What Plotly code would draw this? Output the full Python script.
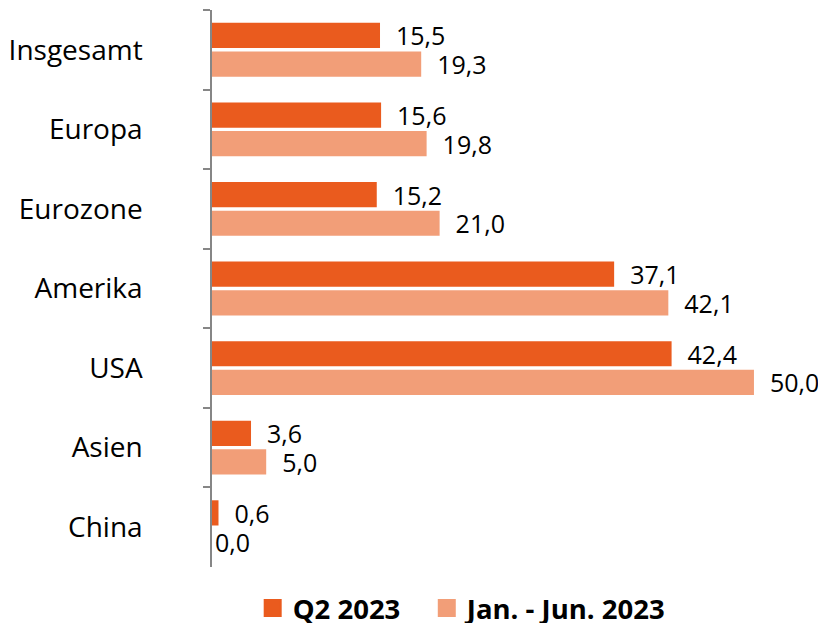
import plotly.graph_objects as go

categories = ["Insgesamt", "Europa", "Eurozone", "Amerika", "USA", "Asien", "China"]
q2_2023 = [15.5, 15.6, 15.2, 37.1, 42.4, 3.6, 0.6]
jan_jun_2023 = [19.3, 19.8, 21.0, 42.1, 50.0, 5.0, 0.0]
series_names = ["Q2 2023", "Jan. - Jun. 2023"]
colors = ["#EA5B1E", "#F29E78"]

FONT = "Open Sans"

fig = go.Figure()
for name, vals, col in zip(series_names, [q2_2023, jan_jun_2023], colors):
    templates = ["\u00a0\u00a0%{x:.1f}" if v > 0 else "%{x:.1f}" for v in vals]
    fig.add_trace(go.Bar(
        y=categories, x=vals, name=name, orientation="h",
        marker=dict(color=col, line=dict(width=0)),
        texttemplate=templates, textposition="outside",
        constraintext="none",
        textfont=dict(family=FONT, size=25, color="#000000"),
        cliponaxis=False, showlegend=False,
    ))
legend_pad = ["\u00a0\u00a0\u00a0", ""]
for name, col, pad in zip(series_names, colors, legend_pad):
    fig.add_trace(go.Scatter(
        x=[None], y=[None], mode="markers", name=name + pad,
        marker=dict(symbol="square", size=16, color=col, line=dict(width=2, color=col)),
        showlegend=True,
    ))

fig.update_layout(
    width=818, height=615,
    margin=dict(l=204, r=7, t=2, b=56, autoexpand=False),
    paper_bgcolor="white", plot_bgcolor="white",
    barmode="group", bargap=0.28, bargroupgap=0.12,
    separators=",.",
    font=dict(family=FONT, size=25, color="#000000"),
    showlegend=True,
    legend=dict(orientation="h", x=0.413, xanchor="center", y=-0.074, yanchor="middle",
                font=dict(family=FONT, size=27.5, color="#000000", weight="bold"),
                traceorder="normal", itemwidth=30, itemsizing="trace"),
    xaxis=dict(range=[0, 56], visible=False, showgrid=False, zeroline=False),
    yaxis=dict(autorange="reversed", showline=True, linecolor="#868686", linewidth=1.5,
               ticks="outside", ticklen=7, tickcolor="#868686", tickwidth=1.5,
               tickson="boundaries", showgrid=False, ticklabelstandoff=62,
               automargin=False,
               tickfont=dict(family=FONT, size=28, color="#000000")),
)

fig.write_html("out.html")
